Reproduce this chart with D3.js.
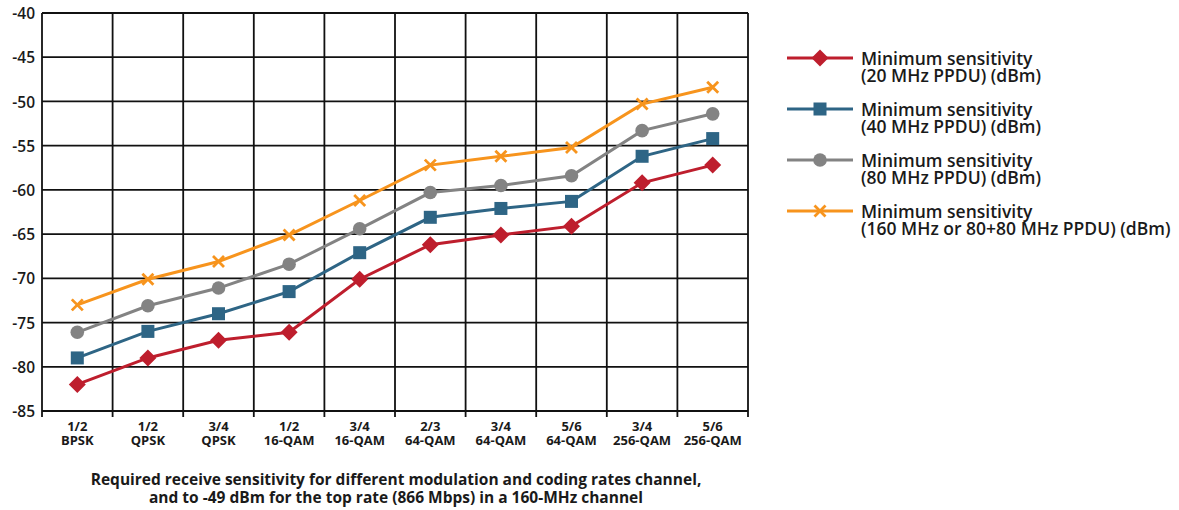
<!DOCTYPE html>
<html>
<head>
<meta charset="utf-8">
<script src="https://cdn.jsdelivr.net/npm/d3@7"></script>
<style>
  html, body { margin: 0; padding: 0; background: #fff; }
  svg { display: block; }
</style>
</head>
<body>
<svg id="chart" width="1179" height="510"></svg>
<script>
const rates = ["1/2", "1/2", "3/4", "1/2", "3/4", "2/3", "3/4", "5/6", "3/4", "5/6"];
const modulations = ["BPSK", "QPSK", "QPSK", "16-QAM", "16-QAM", "64-QAM", "64-QAM", "64-QAM", "256-QAM", "256-QAM"];
const yTicks = [-40, -45, -50, -55, -60, -65, -70, -75, -80, -85];

const sens20 = [-82, -79, -77, -76.1, -70.1, -66.2, -65.1, -64.1, -59.2, -57.2];
const sens40 = [-79, -76, -74, -71.5, -67.1, -63.1, -62.1, -61.3, -56.2, -54.2];
const sens80 = [-76.1, -73.1, -71.1, -68.4, -64.4, -60.3, -59.5, -58.4, -53.3, -51.4];
const sens160 = [-73, -70.1, -68.1, -65.1, -61.2, -57.2, -56.2, -55.2, -50.3, -48.4];

const seriesNames = [
  ["Minimum sensitivity", "(20 MHz PPDU) (dBm)"],
  ["Minimum sensitivity", "(40 MHz PPDU) (dBm)"],
  ["Minimum sensitivity", "(80 MHz PPDU) (dBm)"],
  ["Minimum sensitivity", "(160 MHz or 80+80 MHz PPDU) (dBm)"]
];
const caption = [
  "Required receive sensitivity for different modulation and coding rates channel,",
  "and to -49 dBm for the top rate (866 Mbps) in a 160-MHz channel"
];

(function () {
const series = [
  { values: sens20, color: "#be1e2d", marker: "diamond" },
  { values: sens40, color: "#2e6585", marker: "square" },
  { values: sens80, color: "#838383", marker: "circle" },
  { values: sens160, color: "#f7941d", marker: "cross" }
];
series.forEach((s, i) => s.name = seriesNames[i]);

const svg = d3.select("#chart");
const pLeft = 42, pRight = 748, pTop = 13, pBottom = 411;
const idx = d3.range(rates.length);

const x = d3.scaleBand().domain(idx).range([pLeft, pRight]);
const y = d3.scaleLinear().domain([-85, -40]).range([pBottom, pTop]);

const gridColor = "#111";
const g = svg.append("g");

g.selectAll(".hgrid").data(yTicks).enter().append("line")
  .attr("x1", pLeft).attr("x2", pRight)
  .attr("y1", d => y(d)).attr("y2", d => y(d))
  .attr("stroke", gridColor).attr("stroke-width", 1.8);

const bounds = idx.map(i => x(i)).concat([pRight]);
g.selectAll(".vgrid").data(bounds).enter().append("line")
  .attr("x1", d => d).attr("x2", d => d)
  .attr("y1", pTop).attr("y2", pBottom + 6)
  .attr("stroke", gridColor).attr("stroke-width", 1.8);

const yAxis = d3.axisLeft(y).tickValues(yTicks).tickSize(0).tickPadding(7).tickFormat(d => String(d));
const ya = svg.append("g").attr("transform", `translate(${pLeft},0)`).call(yAxis);
ya.select(".domain").remove();
ya.selectAll("text")
  .attr("font-family", "'Open Sans', sans-serif")
  .attr("font-weight", 600)
  .attr("font-size", 15.5)
  .attr("fill", "#1a1a1a")
  .attr("dy", "0.36em");

const xa = svg.append("g");
idx.forEach(i => {
  const cx = x(i) + x.bandwidth() / 2;
  const t = xa.append("text")
    .attr("x", cx)
    .attr("y", 431)
    .attr("text-anchor", "middle")
    .attr("font-family", "'Liberation Sans Narrow', 'Open Sans', sans-serif")
    .attr("font-weight", 700)
    .attr("font-size", 13)
    .attr("fill", "#1a1a1a");
  t.append("tspan").attr("x", cx).text(rates[i]);
  t.append("tspan").attr("x", cx).attr("dy", 14).text(modulations[i]);
});

const line = d3.line().x((d, i) => x(i) + x.bandwidth() / 2).y(d => y(d));

function drawMarker(sel, type, color, cx, cy, scale) {
  scale = scale || 1;
  if (type === "diamond") {
    const r = 8.5 * scale;
    sel.append("path").attr("d", `M${cx},${cy - r}L${cx + r},${cy}L${cx},${cy + r}L${cx - r},${cy}Z`).attr("fill", color);
  } else if (type === "square") {
    const s = 13 * scale;
    sel.append("rect").attr("x", cx - s / 2).attr("y", cy - s / 2).attr("width", s).attr("height", s).attr("fill", color);
  } else if (type === "circle") {
    sel.append("circle").attr("cx", cx).attr("cy", cy).attr("r", 6.8 * scale).attr("fill", color);
  } else if (type === "cross") {
    const r = 5.5 * scale;
    sel.append("path").attr("d", `M${cx - r},${cy - r}L${cx + r},${cy + r}M${cx + r},${cy - r}L${cx - r},${cy + r}`)
      .attr("stroke", color).attr("stroke-width", 2.8).attr("fill", "none");
  }
}

series.slice().reverse().forEach(s => {
  svg.append("path").datum(s.values)
    .attr("d", line)
    .attr("fill", "none")
    .attr("stroke", s.color)
    .attr("stroke-width", 3);
  const mg = svg.append("g");
  s.values.forEach((v, i) => drawMarker(mg, s.marker, s.color, x(i) + x.bandwidth() / 2, y(v)));
});

const leg = svg.append("g");
series.forEach((s, i) => {
  const ly = 58 + i * 51;
  leg.append("line").attr("x1", 787).attr("x2", 853).attr("y1", ly).attr("y2", ly)
    .attr("stroke", s.color).attr("stroke-width", 3);
  drawMarker(leg, s.marker, s.color, 820, ly);
  const t = leg.append("text")
    .attr("x", 861).attr("y", ly + 7)
    .attr("font-family", "'Open Sans', sans-serif")
    .attr("font-weight", 600)
    .attr("font-size", 17.5)
    .attr("fill", "#1a1a1a");
  t.append("tspan").attr("x", 861).text(s.name[0]);
  t.append("tspan").attr("x", 861).attr("dy", 17).text(s.name[1]);
});

const cap = svg.append("text")
  .attr("x", 396).attr("y", 485)
  .attr("text-anchor", "middle")
  .attr("font-family", "'Liberation Sans Narrow', 'Open Sans', sans-serif")
  .attr("font-weight", 700)
  .attr("font-size", 15.5)
  .attr("fill", "#1a1a1a");
caption.forEach((c, i) => cap.append("tspan").attr("x", 396).attr("dy", i === 0 ? 0 : 18).text(c));
})();
</script>
</body>
</html>
